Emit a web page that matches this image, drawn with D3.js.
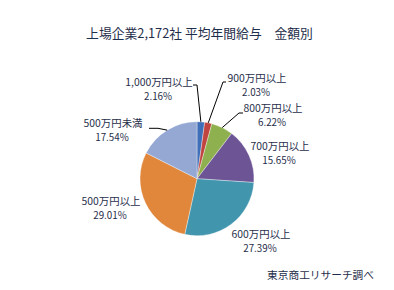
<!DOCTYPE html>
<html>
<head>
<meta charset="utf-8">
<script src="https://cdn.jsdelivr.net/npm/d3@7"></script>
<style>
  html, body { margin: 0; padding: 0; background: #ffffff; }
  svg { display: block; }
  text { font-family: "Noto Sans CJK JP", "Noto Sans", sans-serif; }
</style>
</head>
<body>
<svg id="chart" width="394" height="290"></svg>
<script>
// ---- data ----
const title = "上場企業2,172社 平均年間給与\u3000金額別";
const source = "東京商工リサーチ調べ";
const categories = ["1,000万円以上", "900万円以上", "800万円以上", "700万円以上", "600万円以上", "500万円以上", "500万円未満"];
const values = [2.16, 2.03, 6.22, 15.65, 27.39, 29.01, 17.54];

// ---- styles / layout ----
const colors = ["#3E6FB8", "#C0443F", "#8FB04E", "#6C5495", "#4196AE", "#E0873C", "#94A8D3"];
const textColor = "#1F2E4A";
const cx = 197, cy = 178.7, radius = 57;
// label centre offsets from pie centre (first line centre), and leader elbow points
const labelLayout = [
  { dx: -38, dy: -96, leader: [[0, -93.7], [-4, -93.7]] },
  { dx: 60, dy: -100.5, leader: [[26, -96.7], [29, -96.7]] },
  { dx: 76, dy: -70, leader: [[42, -65.7], [46, -65.7]] },
  { dx: 83, dy: -32, leader: null },
  { dx: 64, dy: 56, leader: null },
  { dx: -86, dy: 23, leader: null },
  { dx: -84, dy: -55, leader: [[-39, -50.4], [-48, -50.4]] }
];

const svg = d3.select("#chart");

svg.append("text")
  .attr("x", 199.5).attr("y", 37.5)
  .attr("text-anchor", "middle")
  .attr("font-size", 12.8)
  .attr("fill", textColor)
  .text(title);

svg.append("text")
  .attr("x", 374).attr("y", 279)
  .attr("text-anchor", "end")
  .attr("font-size", 10.7)
  .attr("fill", textColor)
  .text(source);

const data = categories.map((c, i) => ({ cat: c, value: values[i] }));
const pie = d3.pie().value(d => d.value).sort(null).startAngle(0).endAngle(2 * Math.PI);
const arcs = pie(data);
const arc = d3.arc().innerRadius(0).outerRadius(radius);
const color = d3.scaleOrdinal().domain(categories).range(colors);

const g = svg.append("g").attr("transform", `translate(${cx},${cy})`);

g.selectAll("path.slice")
  .data(arcs)
  .enter().append("path")
  .attr("class", "slice")
  .attr("d", arc)
  .attr("fill", d => color(d.data.cat))
  .attr("stroke", "#ffffff")
  .attr("stroke-opacity", 0.6)
  .attr("stroke-width", 0.6);

// leader lines
const fmt = d3.format(".2f");
arcs.forEach((d, i) => {
  const lay = labelLayout[i];
  if (lay.leader) {
    const mid = (d.startAngle + d.endAngle) / 2;
    const p0 = [Math.sin(mid) * radius, -Math.cos(mid) * radius];
    const pts = [p0].concat(lay.leader);
    g.append("path")
      .attr("d", d3.line()(pts))
      .attr("fill", "none")
      .attr("stroke", "#000000")
      .attr("stroke-width", 1);
  }
  const t = g.append("text")
    .attr("text-anchor", "middle")
    .attr("font-size", 10.4)
    .attr("fill", textColor);
  t.append("tspan")
    .attr("x", lay.dx).attr("y", lay.dy + 3.7)
    .text(d.data.cat);
  t.append("tspan")
    .attr("x", lay.dx - 1).attr("y", lay.dy + 3.7 + 14)
    .attr("font-size", 9.8)
    .text(fmt(d.data.value) + "%");
});
</script>
</body>
</html>
